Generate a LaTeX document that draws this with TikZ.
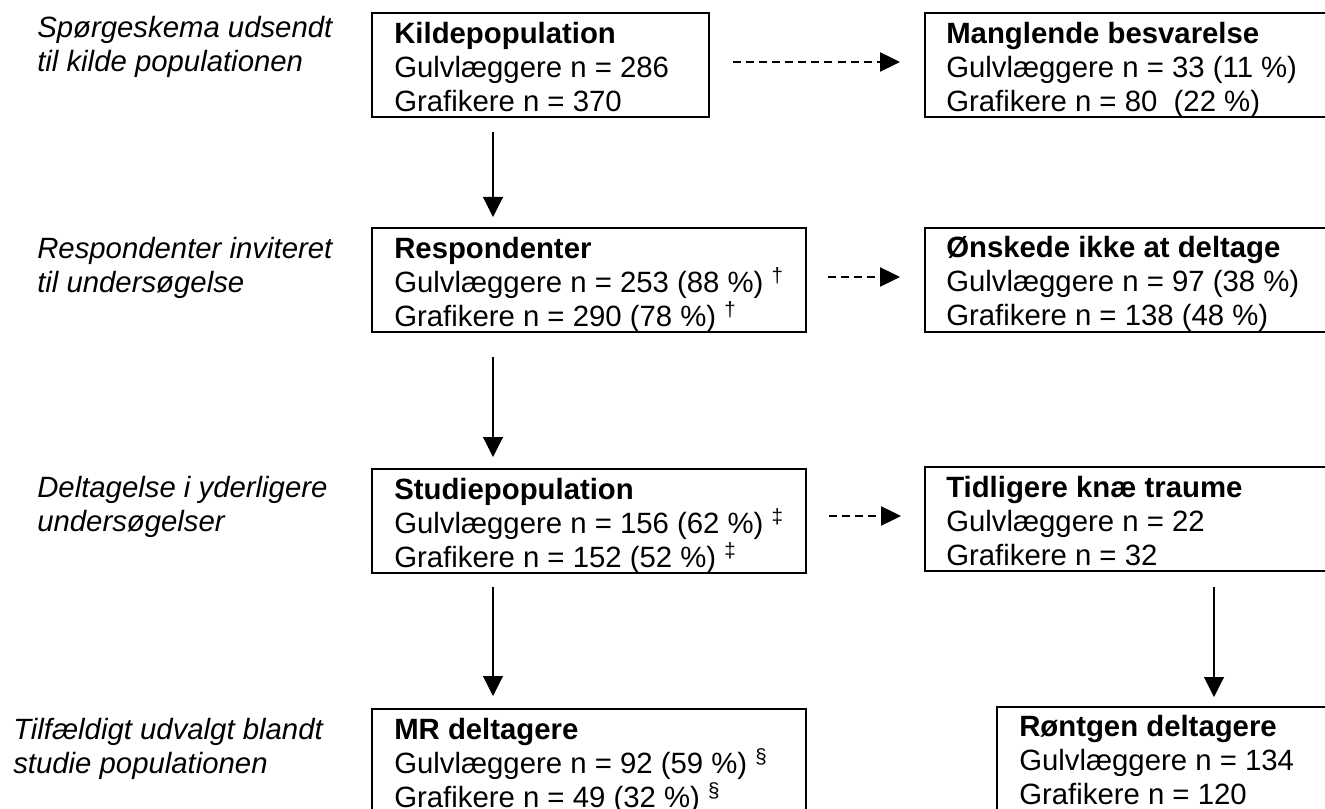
\documentclass[tikz,border=0pt]{standalone}
\usepackage{fontspec}
\setmainfont{Liberation Sans}
\usetikzlibrary{arrows.meta,calc}
\begin{document}
\begin{tikzpicture}[x=0.75pt,y=-0.75pt,
  boxframe/.style={draw=black,line width=1.3pt,rectangle,anchor=north west,inner sep=0pt,outer sep=0pt},
  boxtext/.style={anchor=north west,inner sep=0pt,align=left,font=\fontsize{22}{25.5}\selectfont},
  sidelabel/.style={anchor=north west,inner sep=0pt,align=left,font=\fontsize{22}{25.5}\selectfont\itshape},
  solidarrow/.style={line width=0.85pt,-{Triangle[length=15pt,width=15pt]}},
  dasharrow/.style={line width=0.85pt,dash pattern=on 6pt off 3.8pt,-{Triangle[length=15pt,width=14.5pt]}}
]
\fill[white] (0,0) rectangle (1325,809);
\useasboundingbox (0,0) rectangle (1325,809);
\clip (0,0) rectangle (1325,809);

% side labels
\node[sidelabel] (l1) at (37,16) {Spørgeskema udsendt\\til kilde populationen};
\node[sidelabel] (l2) at (37,237) {Respondenter inviteret\\til undersøgelse};
\node[sidelabel] (l3) at (37,476) {Deltagelse i yderligere\\undersøgelser};
\node[sidelabel] (l4) at (13,718) {Tilfældigt udvalgt blandt\\studie populationen};

% boxes
\node[boxframe,minimum width=337*0.75pt,minimum height=104*0.75pt] (kilde) at (372,13) {};
\node[boxframe,minimum width=434*0.75pt,minimum height=104*0.75pt] (resp) at (372,228) {};
\node[boxframe,minimum width=434*0.75pt,minimum height=104*0.75pt] (studie) at (372,469) {};
\node[boxframe,minimum width=434*0.75pt,minimum height=140*0.75pt] (mr) at (372,709) {};
\node[boxframe,minimum width=430*0.75pt,minimum height=104*0.75pt] (mangl) at (925,13) {};
\node[boxframe,minimum width=430*0.75pt,minimum height=104*0.75pt] (onsk) at (925,228) {};
\node[boxframe,minimum width=430*0.75pt,minimum height=104*0.75pt] (tidl) at (925,467) {};
\node[boxframe,minimum width=400*0.75pt,minimum height=140*0.75pt] (ront) at (997,707) {};

% box texts
\node[boxtext] (kildeT) at ($(kilde.north west)+(22,9)$) {\textbf{Kildepopulation}\\Gulvlæggere n = 286\\Grafikere n = 370};
\node[boxtext] (respT) at ($(resp.north west)+(22,9)$) {\textbf{Respondenter}\\Gulvlæggere n = 253 (88 \%) \textsuperscript{†}\\Grafikere n = 290 (78 \%) \textsuperscript{†}};
\node[boxtext] (studieT) at ($(studie.north west)+(22,9)$) {\textbf{Studiepopulation}\\Gulvlæggere n = 156 (62 \%) \textsuperscript{‡}\\Grafikere n = 152 (52 \%) \textsuperscript{‡}};
\node[boxtext] (mrT) at ($(mr.north west)+(22,9)$) {\textbf{MR deltagere}\\Gulvlæggere n = 92 (59 \%) \textsuperscript{§}\\Grafikere n = 49 (32 \%) \textsuperscript{§}};
\node[boxtext] (manglT) at ($(mangl.north west)+(21,9)$) {\textbf{Manglende besvarelse}\\Gulvlæggere n = 33 (11 \%)\\Grafikere n = 80\ \ (22 \%)};
\node[boxtext] (onskT) at ($(onsk.north west)+(21,8)$) {\textbf{Ønskede ikke at deltage}\\Gulvlæggere n = 97 (38 \%)\\Grafikere n = 138 (48 \%)};
\node[boxtext] (tidlT) at ($(tidl.north west)+(21,9)$) {\textbf{Tidligere knæ traume}\\Gulvlæggere n = 22\\Grafikere n = 32};
\node[boxtext] (rontT) at ($(ront.north west)+(22,8)$) {\textbf{Røntgen deltagere}\\Gulvlæggere n = 134\\Grafikere n = 120};

% solid arrows
\draw[solidarrow] ($(kilde.south west)+(121,15)$) -- ($(resp.north west)+(121,-11)$);
\draw[solidarrow] ($(resp.south west)+(121,25)$) -- ($(studie.north west)+(121,-12)$);
\draw[solidarrow] ($(studie.south west)+(121,14)$) -- ($(mr.north west)+(121,-13)$);
\draw[solidarrow] ($(tidl.south west)+(289,16)$) -- ($(ront.north west)+(217,-10)$);

% dashed arrows
\draw[dasharrow] ($(kilde.east)+(24,-3)$) -- ($(mangl.west)+(-25,-3)$);
\draw[dasharrow] ($(resp.east)+(22,-3)$) -- ($(onsk.west)+(-25,-3)$);
\draw[dasharrow] ($(studie.east)+(23,-5)$) -- ($(tidl.west)+(-24,-3)$);
\end{tikzpicture}
\end{document}
